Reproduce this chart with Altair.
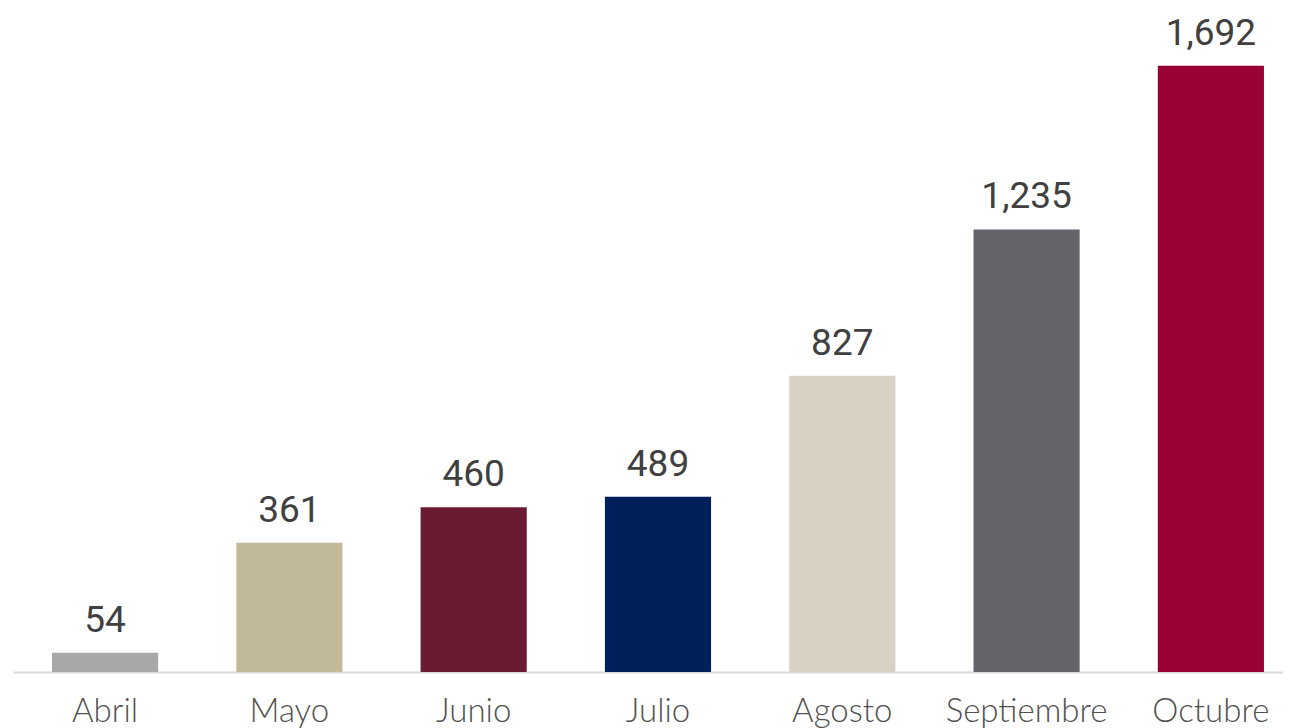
import altair as alt
import pandas as pd

months = ["Abril", "Mayo", "Junio", "Julio", "Agosto", "Septiembre", "Octubre"]
values = [54, 361, 460, 489, 827, 1235, 1692]
colors = ["#A7A8AA", "#C2B99A", "#6A1A31", "#00205B", "#D9D1C4", "#63656A", "#9B0034"]

df = pd.DataFrame({"mes": months, "valor": values})

x = alt.X("mes:N", sort=months,
          scale=alt.Scale(paddingInner=0.424, paddingOuter=0.1575, align=0.672),
          axis=alt.Axis(title=None, labelAngle=0, ticks=False, domainColor="#D9D9D9",
                        domainWidth=2, labelFont="Lato", labelFontSize=33,
                        labelFontWeight=300, labelColor="#505050", labelPadding=23))
y = alt.Y("valor:Q", scale=alt.Scale(domain=[0, 1800], nice=False),
          axis=None)

bars = alt.Chart(df).mark_bar().encode(
    x=x, y=y,
    color=alt.Color("mes:N", sort=months,
                    scale=alt.Scale(domain=months, range=colors), legend=None),
)

labels = alt.Chart(df).mark_text(
    dy=-21, baseline="alphabetic", font="Roboto", fontSize=37, fontWeight=400,
    color="#404040"
).encode(x=alt.X("mes:N", sort=months), y=y, text=alt.Text("valor:Q", format=","))

chart = (bars + labels).properties(
    width=1270, height=645,
    padding={"left": 5, "top": 6, "right": 0, "bottom": 0},
).configure_view(stroke=None)

chart.save("out.html", embed_options={"renderer": "svg", "actions": False})
